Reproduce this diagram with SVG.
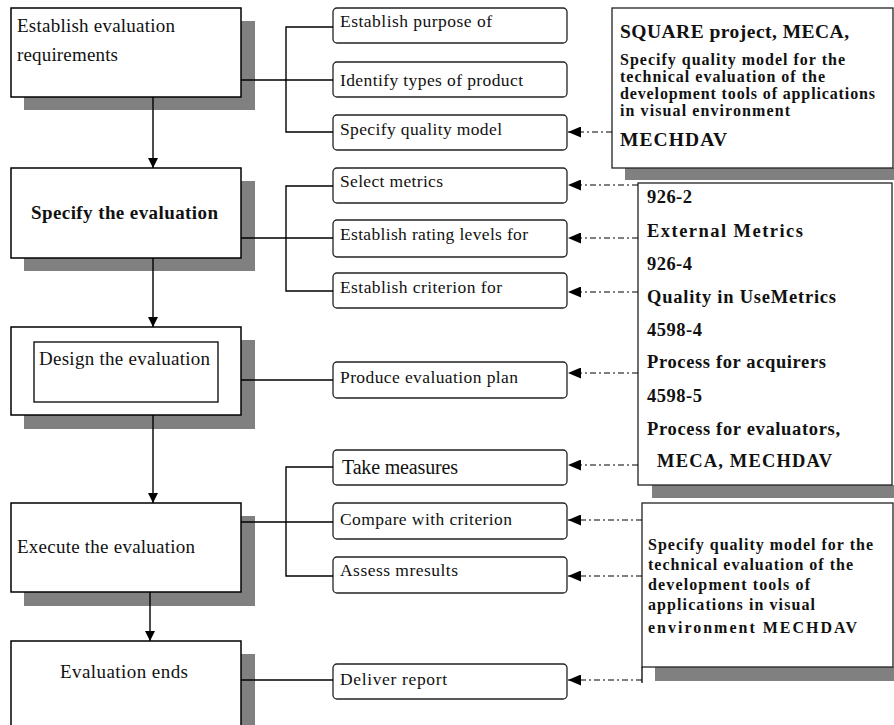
<svg xmlns="http://www.w3.org/2000/svg" width="894" height="725" viewBox="0 0 894 725">
<style>
.shadow{fill:#808080;stroke:none}
.main{fill:#fff;stroke:#000;stroke-width:1.5}
.sub{fill:#fff;stroke:#222;stroke-width:1.3}
.note{fill:#fff;stroke:#222;stroke-width:1.3}
.ln{fill:none;stroke:#000;stroke-width:1.4}
.dd{fill:none;stroke:#000;stroke-width:1.2;stroke-dasharray:6 3 2 3}
.t{font-family:"Liberation Serif","Times New Roman",serif;fill:#111}
.m{font-size:19px}
.s{font-size:17.5px}
.b{font-weight:bold}
.rs{font-size:16px;font-weight:bold}
.rb{font-size:19.5px;font-weight:bold}
.rm{font-size:18.5px;font-weight:bold}
</style>
<defs>
<marker id="ah" markerWidth="10" markerHeight="10" refX="10" refY="5" orient="auto" markerUnits="userSpaceOnUse">
<path d="M0,0 L10,5 L0,10 Z" fill="#000"/>
</marker>
<marker id="al" markerWidth="13" markerHeight="11" refX="13" refY="5.5" orient="auto" markerUnits="userSpaceOnUse">
<path d="M0,0 L13,5.5 L0,11 Z" fill="#000"/>
</marker>
</defs>

<!-- main process boxes -->
<g id="n-establish">
<rect class="shadow" x="24" y="21" width="231" height="89"/>
<rect class="main" x="11" y="8" width="230" height="89"/>
<text class="t m" x="17" y="32" textLength="158" lengthAdjust="spacing">Establish evaluation</text>
<text class="t m" x="17" y="61" textLength="101" lengthAdjust="spacing">requirements</text>
</g>
<g id="n-specify">
<rect class="shadow" x="24" y="181" width="231" height="90"/>
<rect class="main" x="11" y="168" width="230" height="90"/>
<text class="t m b" x="31" y="219" textLength="187" lengthAdjust="spacing">Specify the evaluation</text>
</g>
<g id="n-design">
<rect class="shadow" x="24" y="340" width="231" height="89"/>
<rect class="main" x="11" y="327" width="230" height="88"/>
<rect class="main" x="34" y="342" width="184" height="60" style="stroke-width:1.3"/>
<text class="t m" x="39" y="365" textLength="171" lengthAdjust="spacing">Design the evaluation</text>
</g>
<g id="n-execute">
<rect class="shadow" x="24" y="516" width="231" height="90"/>
<rect class="main" x="11" y="503" width="230" height="89"/>
<text class="t m" x="17" y="553" textLength="178" lengthAdjust="spacing">Execute  the evaluation</text>
</g>
<g id="n-ends">
<rect class="shadow" x="24" y="654" width="231" height="80"/>
<rect class="main" x="11" y="641" width="230" height="95"/>
<text class="t m" x="60" y="678" textLength="128" lengthAdjust="spacing">Evaluation  ends</text>
</g>

<!-- sub-activity boxes -->
<g id="s-purpose"><rect class="sub" x="333" y="8" width="234" height="35" rx="4"/><text class="t s" x="340" y="27" textLength="152" lengthAdjust="spacing">Establish purpose of</text></g>
<g id="s-types"><rect class="sub" x="333" y="62" width="234" height="35" rx="4"/><text class="t s" x="340" y="86" textLength="183" lengthAdjust="spacing">Identify types of product</text></g>
<g id="s-quality"><rect class="sub" x="333" y="115" width="234" height="35" rx="4"/><text class="t s" x="340" y="135" textLength="162" lengthAdjust="spacing">Specify quality model</text></g>
<g id="s-metrics"><rect class="sub" x="333" y="168" width="234" height="35" rx="4"/><text class="t s" x="340" y="187" textLength="103" lengthAdjust="spacing">Select metrics</text></g>
<g id="s-rating"><rect class="sub" x="333" y="220" width="234" height="37" rx="4"/><text class="t s" x="340" y="240" textLength="188" lengthAdjust="spacing">Establish rating levels for</text></g>
<g id="s-criterion"><rect class="sub" x="333" y="273" width="234" height="35" rx="4"/><text class="t s" x="340" y="293" textLength="162" lengthAdjust="spacing">Establish criterion for</text></g>
<g id="s-plan"><rect class="sub" x="333" y="362" width="234" height="36" rx="4"/><text class="t s" x="340" y="383" textLength="178" lengthAdjust="spacing">Produce evaluation plan</text></g>
<g id="s-measures"><rect class="sub" x="333" y="450" width="234" height="35" rx="4"/><text class="t" style="font-size:20px" x="342" y="474" textLength="116" lengthAdjust="spacing">Take  measures</text></g>
<g id="s-compare"><rect class="sub" x="333" y="503" width="234" height="36" rx="4"/><text class="t s" x="340" y="525" textLength="172" lengthAdjust="spacing">Compare with criterion</text></g>
<g id="s-assess"><rect class="sub" x="333" y="557" width="234" height="36" rx="4"/><text class="t s" x="340" y="576" textLength="118" lengthAdjust="spacing">Assess mresults</text></g>
<g id="s-report"><rect class="sub" x="333" y="664" width="234" height="35" rx="4"/><text class="t s" x="340" y="685" textLength="107" lengthAdjust="spacing">Deliver report</text></g>

<!-- reference notes -->
<g id="r-square">
<rect class="shadow" x="625" y="168" width="269" height="12"/>
<rect class="note" x="612" y="8" width="281" height="160"/>
<text class="t rb" x="620" y="38" textLength="229" lengthAdjust="spacing">SQUARE project, MECA,</text>
<text class="t rs" x="620" y="65" textLength="225" lengthAdjust="spacing">Specify quality model for the</text>
<text class="t rs" x="620" y="82" textLength="205" lengthAdjust="spacing">technical evaluation of the</text>
<text class="t rs" x="620" y="99" textLength="255" lengthAdjust="spacing">development tools of applications</text>
<text class="t rs" x="620" y="116" textLength="170" lengthAdjust="spacing">in visual environment</text>
<text class="t rb" x="620" y="146" textLength="107" lengthAdjust="spacing">MECHDAV</text>
</g>
<g id="r-standards">
<rect class="shadow" x="652" y="485" width="242" height="13"/>
<rect class="note" x="638" y="183" width="254" height="302"/>
<text class="t rm" x="647" y="203" textLength="45" lengthAdjust="spacing">926-2</text>
<text class="t rm" x="647" y="237" textLength="156" lengthAdjust="spacing">External    Metrics</text>
<text class="t rm" x="647" y="270" textLength="45" lengthAdjust="spacing">926-4</text>
<text class="t rm" x="647" y="303" textLength="189" lengthAdjust="spacing">Quality in UseMetrics</text>
<text class="t rm" x="647" y="336" textLength="55" lengthAdjust="spacing">4598-4</text>
<text class="t rm" x="647" y="368" textLength="179" lengthAdjust="spacing">Process for acquirers</text>
<text class="t rm" x="647" y="402" textLength="55" lengthAdjust="spacing">4598-5</text>
<text class="t rm" x="647" y="435" textLength="193" lengthAdjust="spacing">Process for evaluators,</text>
<text class="t rm" x="657" y="467" textLength="175" lengthAdjust="spacing">MECA, MECHDAV</text>
</g>
<g id="r-mechdav">
<rect class="shadow" x="655" y="667" width="239" height="14"/>
<rect class="note" x="642" y="503" width="251" height="164"/>
<line class="ln" x1="642" y1="667" x2="642" y2="683" style="stroke-width:1.3"/>
<text class="t rs" x="648" y="550" textLength="225" lengthAdjust="spacing">Specify quality model for the</text>
<text class="t rs" x="648" y="570" textLength="205" lengthAdjust="spacing">technical evaluation of the</text>
<text class="t rs" x="648" y="590" textLength="162" lengthAdjust="spacing">development tools of</text>
<text class="t rs" x="648" y="610" textLength="167" lengthAdjust="spacing">applications in visual</text>
<text class="t rs" x="648" y="633" textLength="209" lengthAdjust="spacing">environment MECHDAV</text>
</g>

<!-- connectors -->
<g id="connectors">
<line class="ln" x1="153" y1="97" x2="153" y2="168" marker-end="url(#ah)"/>
<line class="ln" x1="153" y1="258" x2="153" y2="327" marker-end="url(#ah)"/>
<line class="ln" x1="153" y1="415" x2="153" y2="503" marker-end="url(#ah)"/>
<line class="ln" x1="150" y1="592" x2="150" y2="641" marker-end="url(#ah)"/>

<path class="ln" d="M241,80 H333 M333,27 H286 V132 H333"/>
<path class="ln" d="M241,238 H333 M333,186 H286 V291 H333"/>
<path class="ln" d="M241,380 H333"/>
<path class="ln" d="M241,522 H333 M333,467 H286 V576 H333"/>
<path class="ln" d="M241,680 H333"/>

<line class="dd" x1="612" y1="132" x2="568" y2="132" marker-end="url(#al)"/>
<line class="dd" x1="638" y1="185" x2="568" y2="185" marker-end="url(#al)"/>
<line class="dd" x1="638" y1="238" x2="568" y2="238" marker-end="url(#al)"/>
<line class="dd" x1="638" y1="292" x2="568" y2="292" marker-end="url(#al)"/>
<line class="dd" x1="638" y1="373" x2="568" y2="373" marker-end="url(#al)"/>
<line class="dd" x1="638" y1="465" x2="568" y2="465" marker-end="url(#al)"/>
<line class="dd" x1="642" y1="520" x2="568" y2="520" marker-end="url(#al)"/>
<line class="dd" x1="642" y1="576" x2="568" y2="576" marker-end="url(#al)"/>
<line class="dd" x1="642" y1="680" x2="568" y2="680" marker-end="url(#al)"/>
</g>
</svg>
